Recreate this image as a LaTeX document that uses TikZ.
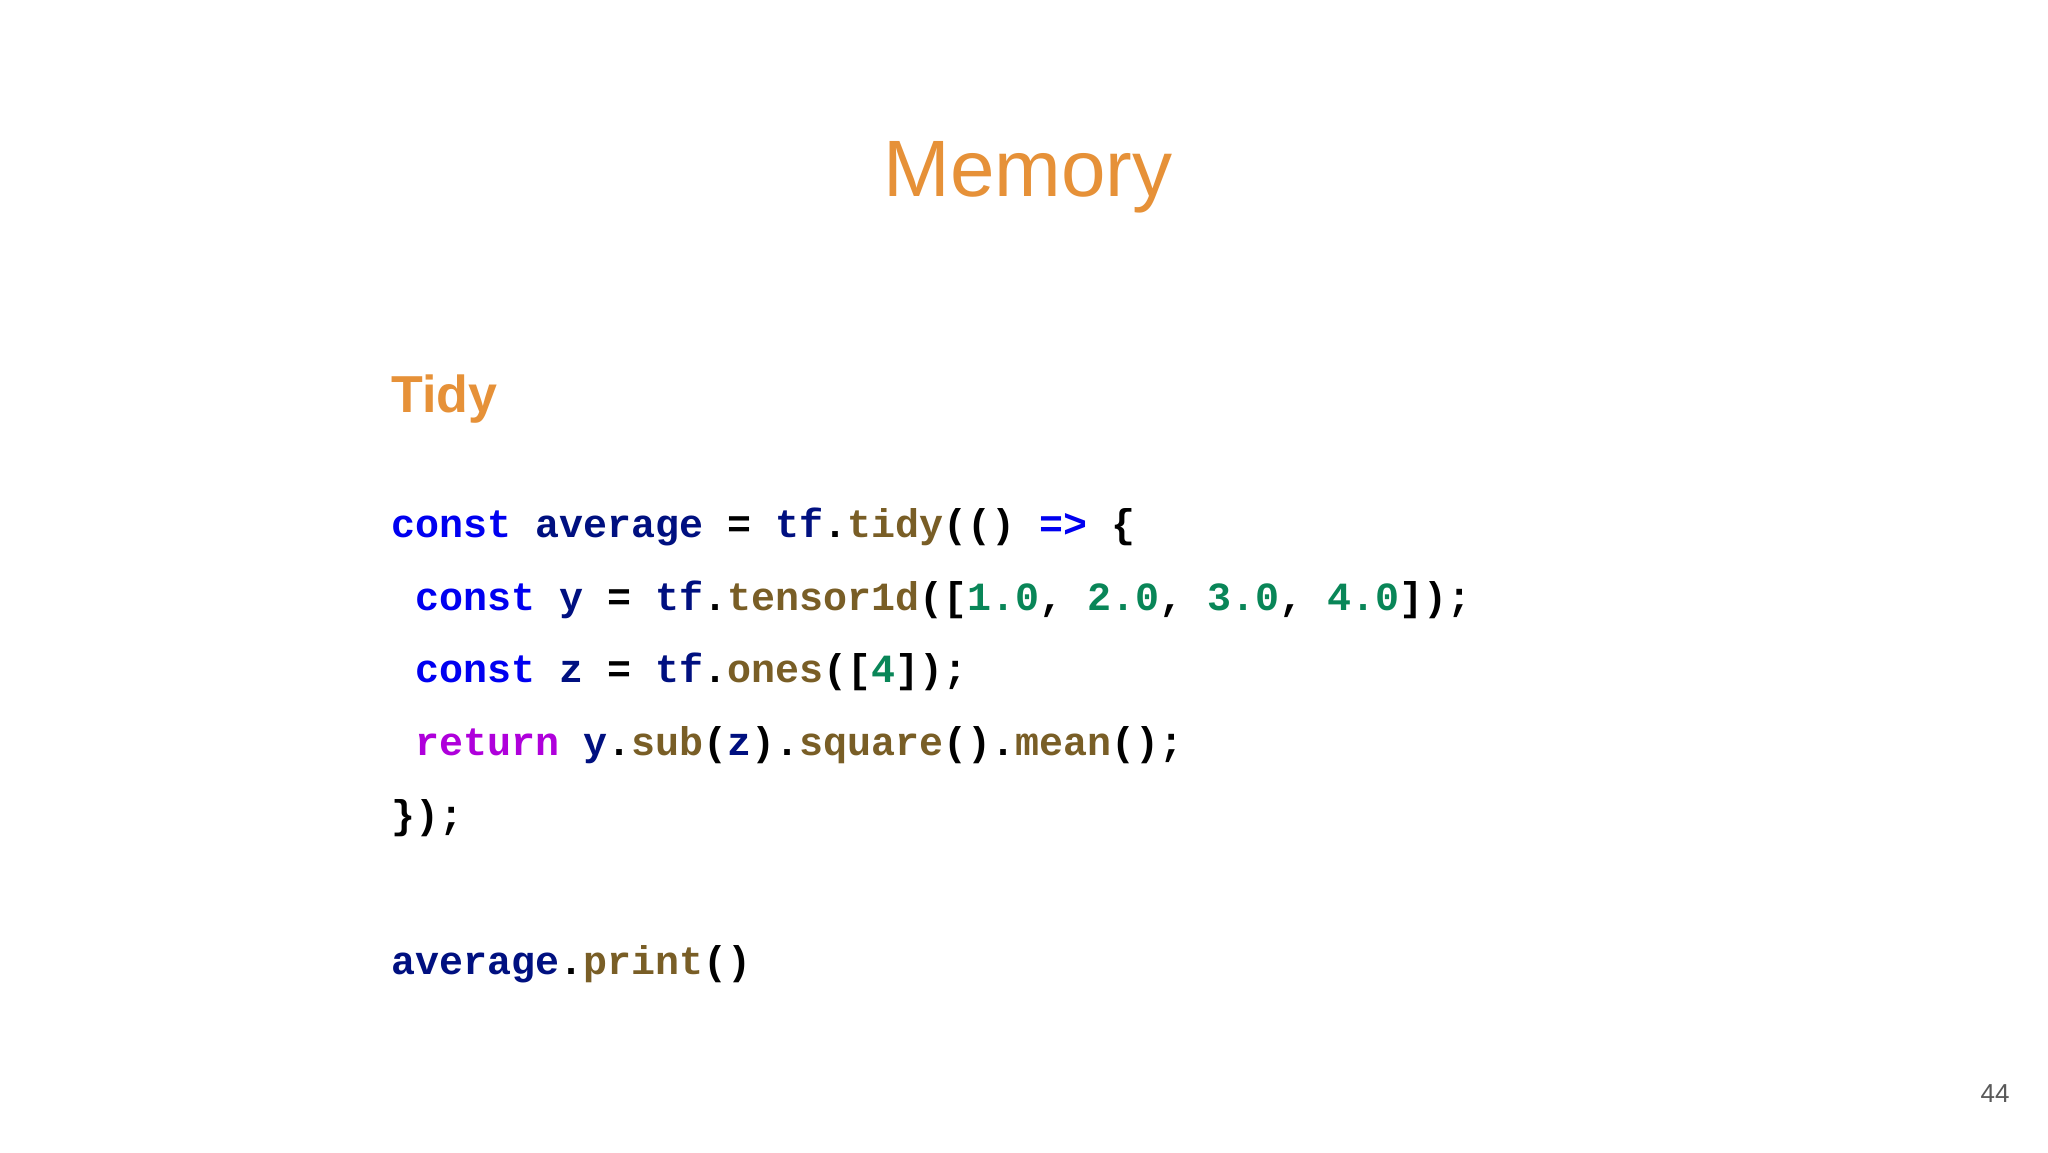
\documentclass[tikz,border=0pt]{standalone}
\usepackage{fontspec}
\setmainfont{Liberation Sans}
\newfontfamily\codefont{Liberation Mono}
\definecolor{ttl}{RGB}{230,145,56}
\definecolor{kwc}{RGB}{0,0,240}
\definecolor{idc}{RGB}{0,16,128}
\definecolor{fnc}{RGB}{121,94,38}
\definecolor{nmc}{RGB}{9,134,88}
\definecolor{rtc}{RGB}{175,0,219}
\newcommand{\kw}[1]{\textcolor{kwc}{#1}}
\newcommand{\idn}[1]{\textcolor{idc}{#1}}
\newcommand{\fnn}[1]{\textcolor{fnc}{#1}}
\newcommand{\nm}[1]{\textcolor{nmc}{#1}}
\newcommand{\rt}[1]{\textcolor{rtc}{#1}}
\begin{document}
\begin{tikzpicture}[x=0.5pt,y=-0.5pt,
  code/.style={anchor=base west,inner sep=0pt,font=\codefont\bfseries\fontsize{20}{24}\selectfont}]
\useasboundingbox[fill=white] (0,0) rectangle (2048,1152);
\node[anchor=base,inner sep=0pt,text=ttl,font=\fontsize{40}{48}\selectfont] (title) at (1028,196) {Memory};
\node[anchor=base west,inner sep=0pt,text=ttl,font=\bfseries\fontsize{26}{30}\selectfont] (tidy) at (391,412) {Tidy};
\node[code] (l1) at (391,537) {\kw{const} \idn{average} = \idn{tf}.\fnn{tidy}(() \kw{=>} \{};
\node[code] (l2) at (391,610) {\ \kw{const} \idn{y} = \idn{tf}.\fnn{tensor1d}([\nm{1.0}, \nm{2.0}, \nm{3.0}, \nm{4.0}]);};
\node[code] (l3) at (391,682) {\ \kw{const} \idn{z} = \idn{tf}.\fnn{ones}([\nm{4}]);};
\node[code] (l4) at (391,755) {\ \rt{return} \idn{y}.\fnn{sub}(\idn{z}).\fnn{square}().\fnn{mean}();};
\node[code] (l5) at (391,828) {\});};
\node[code] (l6) at (391,974) {\idn{average}.\fnn{print}()};
\node[anchor=base east,inner sep=0pt,text=black!65,font=\fontsize{13}{16}\selectfont] (pg) at (2010,1102) {44};
\end{tikzpicture}
\end{document}
